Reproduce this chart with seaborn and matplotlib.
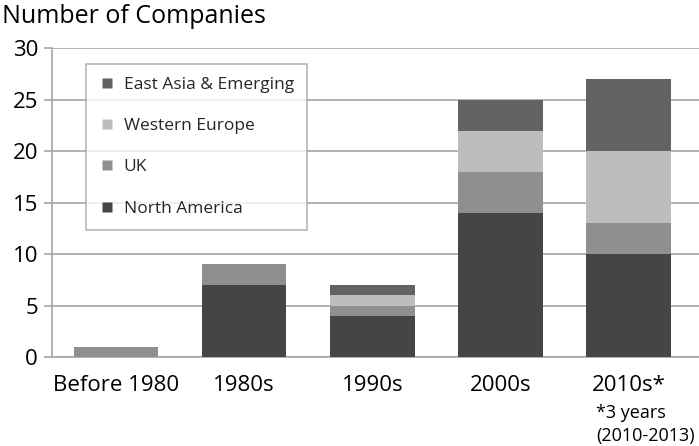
import matplotlib
matplotlib.use("Agg")
import matplotlib.pyplot as plt
import seaborn as sns
import pandas as pd
from matplotlib.lines import Line2D

categories = ["Before 1980", "1980s", "1990s", "2000s", "2010s*"]
north_america = [0, 7, 4, 14, 10]
uk = [1, 2, 1, 4, 3]
western_europe = [0, 0, 1, 4, 7]
east_asia = [0, 0, 1, 3, 7]
series_names = ["North America", "UK", "Western Europe", "East Asia & Emerging"]
colors = ["#454545", "#8f8f8f", "#bdbdbd", "#636363"]
yticks = [0, 5, 10, 15, 20, 25, 30]

sns.set_theme(style="white")
plt.rcParams["font.family"] = ["Open Sans", "DejaVu Sans"]

fig = plt.figure(figsize=(6.99, 4.46), dpi=100)
ax = fig.add_axes([0.0744, 0.1996, 0.9256, 0.6924])

df = pd.DataFrame({"cat": categories, "North America": north_america, "UK": uk,
                   "Western Europe": western_europe, "East Asia & Emerging": east_asia})
bottom = [0] * len(categories)
for name, col in zip(series_names, colors):
    vals = df[name].tolist()
    sns.barplot(x=df["cat"], y=vals, bottom=bottom, color=col, width=0.66,
                ax=ax, saturation=1, edgecolor="none", linewidth=0, zorder=3)
    bottom = [b + v for b, v in zip(bottom, vals)]

ax.set_ylim(0, 30)
ax.set_xlim(-0.5, 4.55)
ax.set_yticks(yticks)
ax.yaxis.grid(True, color="#a6a6a6", linewidth=1.2, zorder=0)
ax.set_axisbelow(True)
for s in ["top", "right"]:
    ax.spines[s].set_visible(False)
ax.spines["left"].set_color("#a6a6a6")
ax.spines["bottom"].set_color("#a6a6a6")
ax.spines["left"].set_linewidth(1.2)
ax.spines["bottom"].set_linewidth(1.2)
ax.tick_params(axis="y", left=True, length=6, color="#a6a6a6", width=1.2,
               labelsize=16, pad=4, labelcolor="black")
ax.tick_params(axis="x", bottom=False, labelsize=16, pad=7, labelcolor="black")
ax.set_xlabel("")
ax.set_ylabel("")

fig.text(0.853, 0.095, "*3 years\n(2010-2013)", ha="left", va="top",
         fontsize=13, linespacing=1.35, color="black")

fig.text(0.003, 0.99, "Number of Companies", ha="left", va="top", fontsize=18, color="black")

handles = [Line2D([0], [0], marker="s", linestyle="none", markersize=7.5,
                  markerfacecolor=c, markeredgecolor="none")
           for c in colors[::-1]]
leg = ax.legend(handles, series_names[::-1], loc="upper left",
                bbox_to_anchor=(0.052, 0.95), frameon=True, fancybox=False,
                fontsize=12.5, labelspacing=1.45, handletextpad=0.45,
                borderpad=0.75, handlelength=1.0, borderaxespad=0)
leg.get_frame().set_edgecolor("#a6a6a6")
leg.get_frame().set_linewidth(1.2)

fig.savefig("out.png", dpi=100)
